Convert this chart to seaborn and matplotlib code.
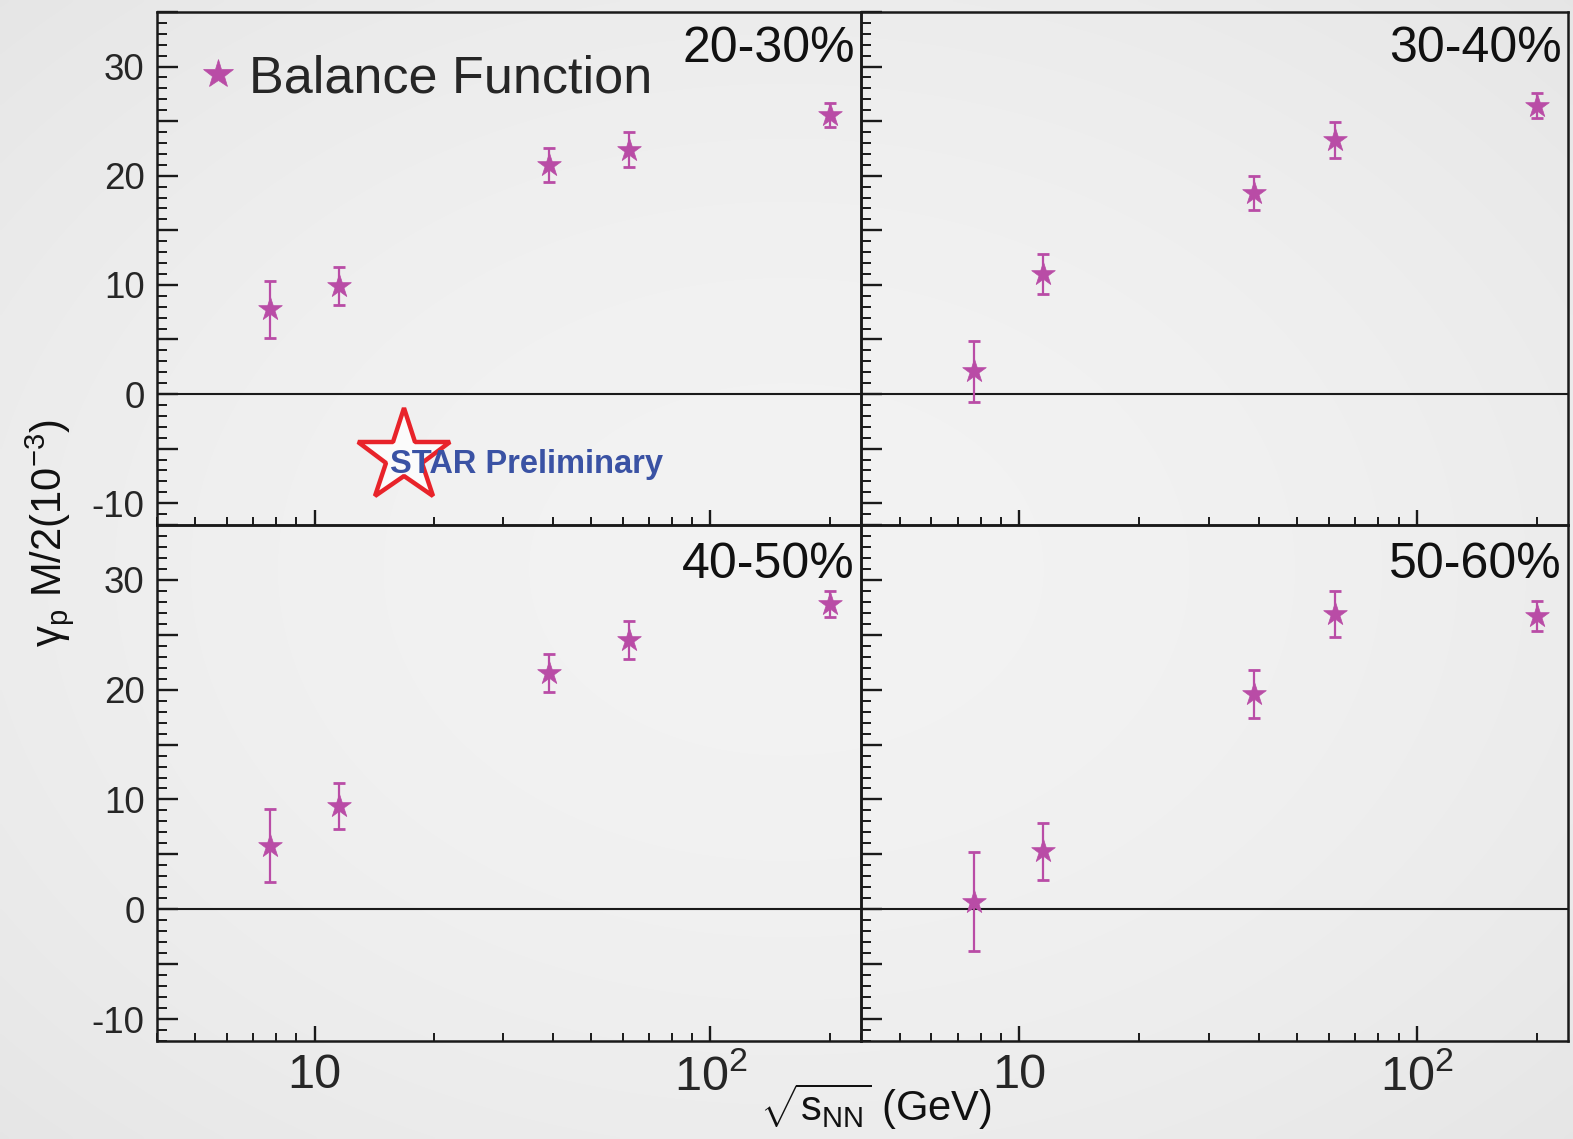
import numpy as np
import pandas as pd
import matplotlib
matplotlib.use("Agg")
import matplotlib.pyplot as plt
import seaborn as sns
from matplotlib.ticker import FixedLocator, FixedFormatter, MultipleLocator, NullFormatter, FuncFormatter
from matplotlib.lines import Line2D

# ---------------- data ----------------
energies = [7.7, 11.5, 39, 62.4, 200]
centralities = ["20-30%", "30-40%", "40-50%", "50-60%"]
gamma_20_30 = [7.75, 9.9, 21.0, 22.4, 25.6]
err_20_30 = [2.65, 1.7, 1.55, 1.6, 1.1]
gamma_30_40 = [2.1, 11.0, 18.4, 23.3, 26.4]
err_30_40 = [2.8, 1.8, 1.55, 1.65, 1.15]
gamma_40_50 = [5.8, 9.4, 21.5, 24.5, 27.8]
err_40_50 = [3.3, 2.1, 1.75, 1.75, 1.2]
gamma_50_60 = [0.7, 5.3, 19.6, 26.9, 26.7]
err_50_60 = [4.5, 2.6, 2.15, 2.1, 1.35]
xtick_values = [10, 100]
xtick_labels = ["10", r"$10^{2}$"]
ytick_values = [-10, 0, 10, 20, 30]
ytick_labels = ["-10", "0", "10", "20", "30"]
legend_label = "Balance Function"

values = [gamma_20_30, gamma_30_40, gamma_40_50, gamma_50_60]
errors = [err_20_30, err_30_40, err_40_50, err_50_60]
df = pd.concat([
    pd.DataFrame({"energy": energies, "gamma": v, "err": e, "cent": c})
    for v, e, c in zip(values, errors, centralities)
], ignore_index=True)

# ---------------- style ----------------
sns.set_theme(style="ticks")
plt.rcParams["font.family"] = ["Liberation Sans", "DejaVu Sans"]
plt.rcParams["mathtext.fontset"] = "custom"
plt.rcParams["mathtext.rm"] = "Liberation Sans"
plt.rcParams["mathtext.it"] = "Liberation Sans:italic"
plt.rcParams["mathtext.sf"] = "Liberation Sans"
plt.rcParams["axes.unicode_minus"] = False

W, H = 1573, 1139
fig = plt.figure(figsize=(W / 100, H / 100), dpi=100)

# soft vignette background
bg = fig.add_axes([0, 0, 1, 1], zorder=-10)
yy, xx = np.mgrid[-1:1:300j, -1:1:400j]
rr = (xx ** 2 + yy ** 2) / 2.0
bg.imshow(0.948 - 0.05 * rr, cmap="gray", vmin=0, vmax=1, aspect="auto",
          extent=[0, 1, 0, 1], interpolation="bilinear")
bg.set_axis_off()

mcolor = "#b94ca6"
px_boxes = {
    "20-30%": (157, 12, 861, 525),
    "30-40%": (861, 12, 1568, 525),
    "40-50%": (157, 525, 861, 1041),
    "50-60%": (861, 525, 1568, 1041),
}


def ylab(v, p):
    r = int(round(v))
    if abs(v - r) < 1e-6 and r in ytick_values:
        return ytick_labels[ytick_values.index(r)]
    return ""


axes = {}
for i, cent in enumerate(centralities):
    x0, y0, x1, y1 = px_boxes[cent]
    ax = fig.add_axes([x0 / W, 1 - y1 / H, (x1 - x0) / W, (y1 - y0) / H])
    ax.set_facecolor("none")
    axes[cent] = ax
    sub = df[df["cent"] == cent]
    ax.axhline(0, color="#1a1a1a", lw=1.5, zorder=1)
    ax.errorbar(sub["energy"], sub["gamma"], yerr=sub["err"], fmt="none",
                ecolor=mcolor, elinewidth=1.6, capsize=4.5, capthick=2.0, zorder=2)
    sns.scatterplot(data=sub, x="energy", y="gamma", marker="*", s=320,
                    color=mcolor, edgecolor=mcolor, linewidth=0.5, ax=ax,
                    zorder=3, legend=False)
    ax.set_xscale("log")
    ax.set_xlim(4.0, 240)
    ax.set_ylim(-12, 35)
    ax.set_xlabel("")
    ax.set_ylabel("")
    for sp in ax.spines.values():
        sp.set_color("#1a1a1a")
        sp.set_linewidth(1.8)
    ax.xaxis.set_major_locator(FixedLocator(xtick_values))
    ax.yaxis.set_major_locator(MultipleLocator(5))
    ax.yaxis.set_minor_locator(MultipleLocator(1))
    ax.tick_params(axis="y", which="major", direction="in", length=15, width=1.7,
                   color="#1a1a1a", pad=9, labelsize=26.5, left=True, right=False)
    ax.tick_params(axis="y", which="minor", direction="in", length=7, width=1.4,
                   color="#1a1a1a", left=True, right=False)
    ax.tick_params(axis="x", which="major", direction="in", length=11, width=1.7,
                   color="#1a1a1a", pad=9, labelsize=35, bottom=True, top=False)
    ax.tick_params(axis="x", which="minor", direction="in", length=6, width=1.4,
                   color="#1a1a1a", bottom=True, top=False)
    ax.xaxis.set_minor_formatter(NullFormatter())
    if i >= 2:
        ax.xaxis.set_major_formatter(FixedFormatter(xtick_labels))
    else:
        ax.set_xticklabels([])
    if i % 2 == 0:
        ax.yaxis.set_major_formatter(FuncFormatter(ylab))
    else:
        ax.set_yticklabels([])
    ybase = 0.9025 if i < 2 else 0.897
    ax.text(0.991, ybase, cent, transform=ax.transAxes, ha="right",
            va="baseline", fontsize=36, color="#111111")

# legend
ax0 = axes["20-30%"]
handle = Line2D([], [], marker="*", ls="none", color=mcolor, ms=22, mew=0.5)
ax0.legend([handle], [legend_label], loc="upper left", bbox_to_anchor=(0.057, 0.918),
           frameon=False, fontsize=37.5, handlelength=0.8, handletextpad=0.2,
           borderpad=0, borderaxespad=0)

# STAR Preliminary logo
ax0.plot([16.8], [-5.8], marker="*", ms=70, mfc="#fbfbfb", mec="#e8232a",
         mew=3.2, ls="none", zorder=4)
ax0.text(0.331, 0.101, "STAR Preliminary", transform=ax0.transAxes,
         fontsize=23.5, fontweight="bold", color="#3a52a4", ha="left",
         va="baseline", zorder=5)

# axis titles
fig.text(50 / W, 1 - 533 / H, r"$\mathrm{\gamma}_{\mathrm{p}}$ M/2(10$^{-3}$)",
         rotation=90, ha="center", va="center", fontsize=30, color="#111111")
fig.text(876 / W, 1 - 1107 / H, r"$\sqrt{\mathrm{s}_{\mathrm{NN}}}$ (GeV)",
         ha="center", va="center", fontsize=30, color="#111111")

fig.savefig("out.png", dpi=100, facecolor=fig.get_facecolor())
